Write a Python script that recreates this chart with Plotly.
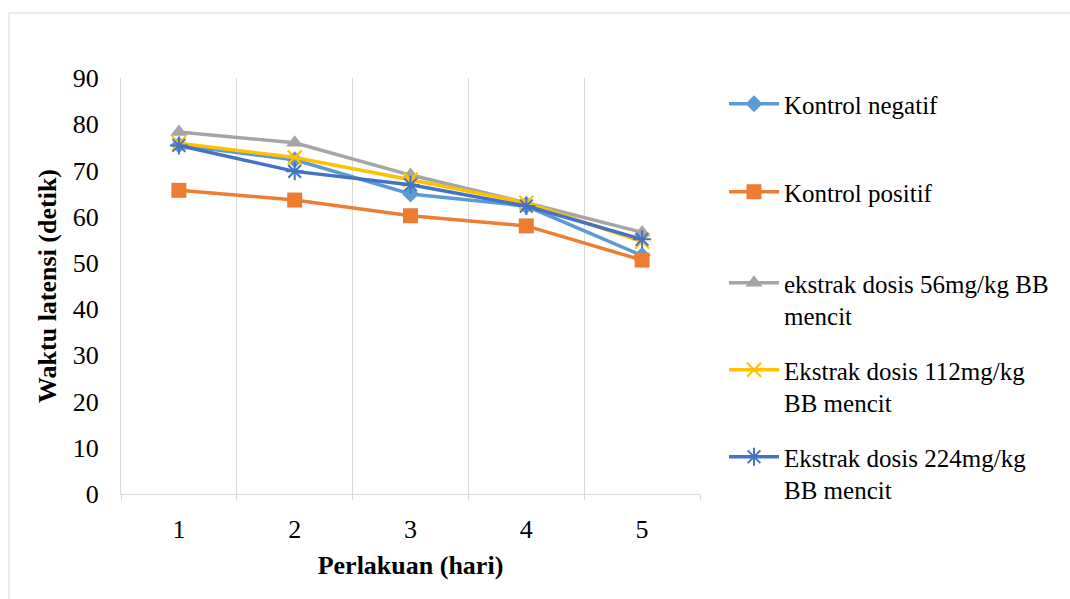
import plotly.graph_objects as go

# Treatment day (category axis)
days = ["1", "2", "3", "4", "5"]

# Latency time (seconds) per group
kontrol_negatif = [75.5, 72.3, 64.9, 62.3, 51.6]
kontrol_positif = [65.7, 63.6, 60.2, 58.0, 50.6]
ekstrak_56 = [78.3, 76.0, 69.0, 63.0, 56.6]
ekstrak_112 = [75.9, 72.8, 68.0, 63.0, 54.6]
ekstrak_224 = [75.4, 69.8, 66.9, 62.3, 55.1]

series = [
    ("Kontrol negatif", kontrol_negatif, "#5B9BD5", "diamond", 13),
    ("Kontrol positif", kontrol_positif, "#ED7D31", "square", 15),
    ("ekstrak dosis 56mg/kg BB<br>mencit", ekstrak_56, "#A5A5A5", "triangle-up", 15),
    ("Ekstrak dosis 112mg/kg<br>BB mencit", ekstrak_112, "#FFC000", "x-thin-open", 14),
    ("Ekstrak dosis 224mg/kg<br>BB mencit", ekstrak_224, "#4472C4", "asterisk-open", 15),
]

# Vertical pixel position of each legend entry's first line
legend_rows = [105, 193, 284, 371, 458]

FONT = "Liberation Serif"
L, R, T, B = 121, 700, 78, 494
W, H = 1070, 599

def px_x(p):
    return (p - L) / (R - L)

def px_y(p):
    return (B - p) / (B - T)

fig = go.Figure()
legends = {}
for i, (name, vals, color, symbol, size) in enumerate(series):
    key = "legend" if i == 0 else f"legend{i + 1}"
    fig.add_trace(go.Scatter(
        x=days, y=vals, name=name, mode="lines+markers",
        legend=key,
        line=dict(color=color, width=3.5),
        marker=dict(symbol=symbol, size=size, color=color,
                    line=dict(color=color, width=2 if "open" in symbol else 0)),
    ))
    legends[key] = dict(
        x=px_x(724), y=px_y(legend_rows[i] - 24), xanchor="left", yanchor="top",
        font=dict(family=FONT, size=25, color="black"),
        valign="top", itemwidth=50, bgcolor="rgba(0,0,0,0)",
    )

fig.update_layout(
    width=W, height=H,
    margin=dict(l=L, r=W - R, t=T, b=H - B),
    paper_bgcolor="white", plot_bgcolor="white",
    font=dict(family=FONT, size=26, color="black"),
    showlegend=True,
    xaxis=dict(
        type="category", range=[-0.5, 4.5],
        tickson="boundaries", showgrid=True, gridcolor="#D9D9D9", gridwidth=1,
        showline=True, linecolor="#D9D9D9", linewidth=1,
        ticks="outside", ticklen=5, tickcolor="#D9D9D9",
        ticklabelstandoff=12,
        tickfont=dict(family=FONT, size=26),
        title=dict(text="<b>Perlakuan (hari)</b>", font=dict(family=FONT, size=26), standoff=12),
        zeroline=False, fixedrange=True,
    ),
    yaxis=dict(
        range=[0, 90], dtick=10, showgrid=False,
        showline=True, linecolor="#D9D9D9", linewidth=1,
        ticks="", ticklabelstandoff=16,
        tickfont=dict(family=FONT, size=26),
        title=dict(text="<b>Waktu latensi (detik)</b>", font=dict(family=FONT, size=26), standoff=8),
        zeroline=False, fixedrange=True,
    ),
    shapes=[dict(
        type="rect", xref="paper", yref="paper",
        x0=px_x(9), x1=px_x(1080), y0=px_y(610), y1=px_y(13),
        line=dict(color="#D9D9D9", width=1), fillcolor="rgba(0,0,0,0)", layer="below",
    )],
    **legends,
)

fig.write_html("out.html")
